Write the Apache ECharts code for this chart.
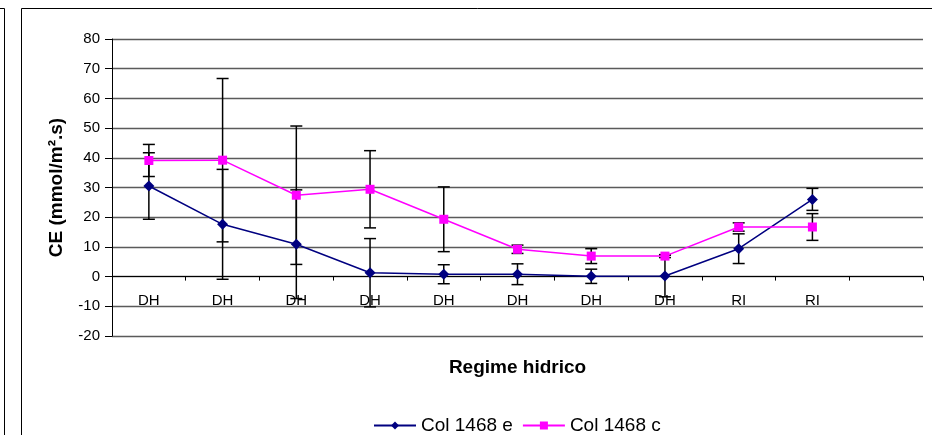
<!DOCTYPE html>
<html>
<head>
<meta charset="utf-8">
<script src="https://cdn.jsdelivr.net/npm/echarts@6/dist/echarts.min.js"></script>
<style>
  html, body { margin: 0; padding: 0; background: #fff; }
  #main { width: 932px; height: 435px; }
</style>
</head>
<body>
<div id="main"></div>
<script>
// categorie (l'ultima vuota, come nel grafico originale)
var categorie = ['DH', 'DH', 'DH', 'DH', 'DH', 'DH', 'DH', 'DH', 'RI', 'RI', ''];
// valori medi
var col1468e = [30.5, 17.6, 10.9, 1.3, 0.8, 0.8, 0.1, 0.2, 9.4, 26.0];
var col1468c = [39.1, 39.2, 27.4, 29.4, 19.3, 9.2, 6.9, 6.9, 16.7, 16.7];
// barre di errore (+/-)
var errE = [11.2, 18.5, 18.3, 11.5, 3.2, 3.5, 2.4, 7.0, 5.0, 3.7];
var errC = [5.4, 27.5, 23.3, 13.0, 10.9, 1.4, 2.5, 0.5, 1.4, 4.5];

var font = "'Liberation Sans', Arial, sans-serif";

function errData(vals, errs) {
    return vals.map(function (v, i) { return [i, v - errs[i], v + errs[i]]; });
}

function renderErr(params, api) {
    var lo = api.coord([api.value(0), api.value(1)]);
    var hi = api.coord([api.value(0), api.value(2)]);
    var w = 6;
    var st = { stroke: '#000', lineWidth: 1.5 };
    return {
        type: 'group',
        children: [
            { type: 'line', shape: { x1: hi[0], y1: hi[1], x2: lo[0], y2: lo[1] }, style: st },
            { type: 'line', shape: { x1: hi[0] - w, y1: hi[1], x2: hi[0] + w, y2: hi[1] }, style: st },
            { type: 'line', shape: { x1: lo[0] - w, y1: lo[1], x2: lo[0] + w, y2: lo[1] }, style: st }
        ]
    };
}

var myChart = echarts.init(document.getElementById('main'));
myChart.setOption({
    animation: false,
    backgroundColor: '#fff',
    textStyle: { fontFamily: font },
    graphic: [
        // cornice del grafico
        { type: 'rect', shape: { x: 21.5, y: 8.5, width: 1000, height: 1000 },
          style: { fill: null, stroke: '#000', lineWidth: 1 } },
        // bordo del grafico accanto
        { type: 'polyline', shape: { points: [[0, 8.5], [4.5, 8.5], [4.5, 440]] },
          style: { fill: null, stroke: '#000', lineWidth: 1 } }
    ],
    grid: { left: 112, top: 39, right: 9, bottom: 99, outerBoundsMode: 'none' },
    legend: {
        left: 368, top: 411,
        itemWidth: 42, itemHeight: 10, itemGap: 9,
        textStyle: { fontSize: 19, color: '#000', fontFamily: font },
        data: ['Col 1468 e', 'Col 1468 c']
    },
    xAxis: {
        type: 'category',
        data: categorie,
        boundaryGap: true,
        name: 'Regime hidrico',
        nameLocation: 'middle',
        nameGap: 22,
        nameTextStyle: { fontSize: 19, fontWeight: 'bold', color: '#000', fontFamily: font },
        axisLine: { onZero: true, lineStyle: { color: '#000', width: 1 } },
        axisTick: { show: true, interval: 0, length: 4, lineStyle: { color: '#000' } },
        // le etichette stanno appena sotto la linea dello zero
        axisLabel: { interval: 0, fontSize: 15, color: '#000', margin: -43 },
        splitLine: { show: false }
    },
    yAxis: {
        type: 'value',
        min: -20, max: 80, interval: 10,
        name: 'CE (mmol/m².s)',
        nameLocation: 'middle',
        nameRotate: 90,
        nameGap: 46,
        nameTextStyle: { fontSize: 19, fontWeight: 'bold', color: '#000', fontFamily: font },
        axisLine: { show: true, lineStyle: { color: '#000', width: 1 } },
        axisTick: { show: true, length: 7, lineStyle: { color: '#000' } },
        axisLabel: { fontSize: 15, color: '#000', margin: 12 },
        splitLine: { show: true, lineStyle: { color: '#5a5a5a', width: 1.3 } }
    },
    series: [
        {
            name: 'err e', type: 'custom', renderItem: renderErr,
            data: errData(col1468e, errE), encode: { x: 0, y: [1, 2] }, z: 2
        },
        {
            name: 'err c', type: 'custom', renderItem: renderErr,
            data: errData(col1468c, errC), encode: { x: 0, y: [1, 2] }, z: 2
        },
        {
            name: 'Col 1468 e', type: 'line', data: col1468e,
            symbol: 'diamond', symbolSize: 11, z: 3,
            itemStyle: { color: '#000080' },
            lineStyle: { color: '#000080', width: 1.5 }
        },
        {
            name: 'Col 1468 c', type: 'line', data: col1468c,
            symbol: 'rect', symbolSize: 9, z: 4,
            itemStyle: { color: '#FF00FF' },
            lineStyle: { color: '#FF00FF', width: 1.5 }
        }
    ]
});
</script>
</body>
</html>
